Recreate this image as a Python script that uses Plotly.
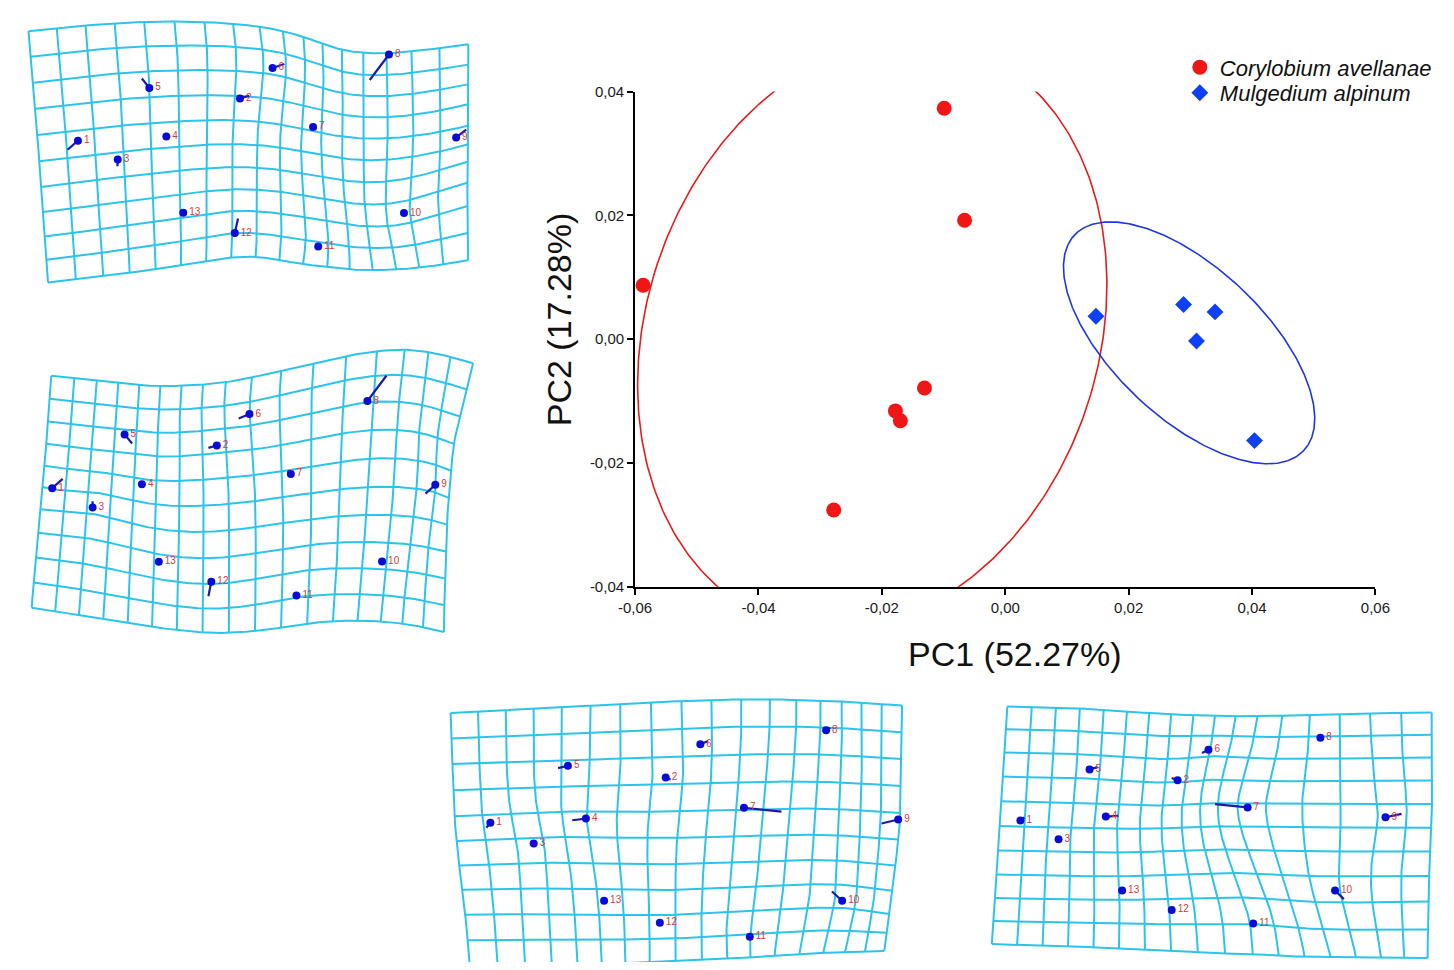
import numpy as np
import plotly.graph_objects as go

# ---------------- PCA scores ----------------
cory_pc1 = [-0.0587, -0.0099, -0.0066, -0.0131, -0.0178, -0.0170, -0.0278]
cory_pc2 = [0.0087, 0.0373, 0.0192, -0.0079, -0.0116, -0.0132, -0.0276]
mulg_pc1 = [0.0147, 0.0289, 0.0340, 0.0310, 0.0404]
mulg_pc2 = [0.0037, 0.0056, 0.0044, -0.0003, -0.0164]

x_ticks = [-0.06, -0.04, -0.02, 0.0, 0.02, 0.04, 0.06]
x_tick_text = ["-0,06", "-0,04", "-0,02", "0,00", "0,02", "0,04", "0,06"]
y_ticks = [-0.04, -0.02, 0.0, 0.02, 0.04]
y_tick_text = ["-0,04", "-0,02", "0,00", "0,02", "0,04"]

ELLIPSE_P = 0.90

# ---------------- deformation grids ----------------
# landmarks: position in the panel, and grid coordinates (column u, row v) of each landmark
# frame: grid nodes on the outline (u, v) -> (x, y)
landmark_ids = [str(i) for i in range(1, 14)]

pc2_pos_x = [62.3, 228.0, 103.0, 152.7, 135.3, 261.3, 302.7, 380.3, 449.0, 395.7, 308.0, 222.7, 170.0]
pc2_pos_y = [134.0, 91.0, 153.3, 129.7, 80.3, 60.0, 120.0, 46.3, 130.7, 207.7, 241.7, 228.0, 207.3]
pc2_pos_u = [1.41, 7.2, 2.8, 4.56, 4.0, 8.35, 10.6, 14.1, 16.55, 14.8, 10.5, 7.1, 5.1]
pc2_pos_v = [4.4, 3.1, 5.3, 4.55, 2.65, 1.74, 3.8, 0.05, 4.4, 7.5, 9.2, 9.0, 7.8]
pc2_pos_tip_x = [51.7, 237.3, 102.7, None, 127.7, 273.3, 306.0, 360.7, 459.3, None, None, 226.0, None]
pc2_pos_tip_y = [143.3, 88.3, 160.0, None, 70.7, 56.0, 122.7, 72.3, 122.7, None, None, 213.3, None]
pc2_pos_frame_u = [0, 2, 4, 6, 8, 10, 12, 15, 17,
                   0, 2, 4, 6, 8, 10, 12, 14, 16, 17,
                   0, 0, 0, 17, 17, 17]
pc2_pos_frame_v = [0, 0, 0, 0, 0, 0, 0, 0, 0,
                   10, 10, 10, 10, 10, 10, 10, 10, 10, 10,
                   2, 5, 8, 3, 6, 8]
pc2_pos_frame_x = [11.7, 70.0, 130.0, 191.7, 248.0, 293.0, 332.0, 403.0, 461.7,
                   31.7, 88.3, 141.7, 193.3, 244.0, 292.0, 340.0, 388.0, 436.0, 461.0,
                   16.7, 22.7, 28.3, 461.0, 461.0, 461.0]
pc2_pos_frame_y = [22.7, 16.7, 13.3, 13.3, 18.0, 28.3, 41.7, 43.0, 36.0,
                   278.3, 271.7, 265.0, 256.7, 252.0, 260.0, 265.0, 265.0, 260.0, 256.0,
                   75.0, 155.0, 231.7, 96.7, 155.0, 200.0]

pc2_neg_x = [36.0, 204.3, 77.3, 127.7, 110.0, 237.7, 280.0, 358.3, 427.7, 373.3, 285.7, 198.7, 145.0]
pc2_neg_y = [147.7, 104.3, 167.3, 143.7, 93.0, 72.3, 133.3, 59.0, 144.3, 222.3, 257.0, 243.0, 222.7]
pc2_neg_u = [0.43, 7.6, 2.24, 4.34, 3.46, 9.0, 10.3, 12.8, 15.9, 13.8, 10.55, 7.33, 5.2]
pc2_neg_v = [4.9, 2.7, 5.75, 4.2, 2.2, 1.5, 4.15, 1.96, 4.75, 7.7, 8.95, 7.9, 7.3]
pc2_neg_tip_x = [46.7, 195.7, 77.3, None, 117.7, 226.7, 276.7, 377.7, 417.7, None, None, 195.7, None]
pc2_neg_tip_y = [138.3, 106.7, 161.0, None, 102.3, 76.7, 130.0, 33.3, 153.3, None, None, 257.7, None]
pc2_neg_frame_u = [0, 2, 4, 6, 8, 10, 12, 14, 16, 17,
                   0, 2, 4, 6, 8, 10, 12, 14, 16, 17,
                   0, 0, 0, 17, 17, 17]
pc2_neg_frame_v = [0, 0, 0, 0, 0, 0, 0, 0, 0, 0,
                   10, 10, 10, 10, 10, 10, 10, 10, 10, 10,
                   2, 5, 8, 3, 5, 8]
pc2_neg_frame_x = [35.0, 81.7, 125.0, 168.3, 213.3, 270.0, 336.7, 396.7, 443.0, 466.7,
                   15.0, 63.3, 113.3, 163.3, 216.7, 270.0, 323.0, 372.0, 415.0, 436.7,
                   32.0, 25.7, 19.3, 446.3, 440.3, 437.3]
pc2_neg_frame_y = [33.3, 38.0, 43.0, 43.5, 40.0, 28.3, 13.3, 6.7, 14.0, 20.7,
                   269.3, 277.0, 285.0, 292.0, 295.0, 290.0, 283.0, 283.3, 289.0, 294.3,
                   80.0, 145.7, 218.3, 102.8, 157.5, 239.6]

pc1_neg_x = [54.0, 233.3, 98.3, 151.7, 133.3, 268.7, 313.3, 397.3, 471.0, 413.7, 319.3, 227.3, 170.3]
pc1_neg_y = [133.3, 87.3, 154.3, 129.0, 75.3, 53.3, 118.0, 39.0, 130.0, 212.7, 249.3, 235.0, 212.7]
pc1_neg_u = [1.26, 7.4, 2.56, 5.0, 4.25, 8.6, 10.3, 13.25, 16.9, 14.3, 11.0, 7.4, 5.25]
pc1_neg_v = [4.33, 2.73, 5.24, 4.28, 2.2, 1.6, 3.93, 1.1, 4.25, 7.7, 9.1, 8.3, 7.45]
pc1_neg_tip_x = [50.0, 238.3, None, 137.7, 123.3, 276.7, 351.7, 401.7, 454.0, 403.3, None, None, None]
pc1_neg_tip_y = [138.3, 89.3, None, 130.7, 77.7, 50.0, 122.0, 36.7, 134.0, 203.3, None, None, None]
pc1_neg_frame_u = [0, 3, 6, 9, 11, 13, 15, 17,
                   0, 4, 7, 10, 13, 15, 17,
                   0, 0, 0, 0, 17, 17, 17, 17]
pc1_neg_frame_v = [0, 0, 0, 0, 0, 0, 0, 0,
                   10, 10, 10, 10, 10, 10, 10,
                   2, 4, 6, 8, 2, 4, 6, 8]
pc1_neg_frame_x = [13.3, 98.3, 186.7, 280.0, 340.0, 391.7, 433.3, 475.0,
                   33.0, 143.3, 216.7, 296.7, 370.0, 416.7, 456.7,
                   15.3, 17.3, 22.0, 28.3, 474.0, 473.3, 468.0, 461.7]
pc1_neg_frame_y = [21.7, 17.3, 12.3, 8.3, 7.7, 9.0, 11.0, 14.0,
                   279.0, 278.0, 275.0, 271.7, 266.7, 265.0, 263.3,
                   73.3, 126.7, 176.7, 226.7, 68.3, 123.3, 176.7, 226.7]

pc1_pos_x = [36.0, 196.7, 75.0, 123.3, 106.7, 228.3, 268.3, 342.7, 409.3, 357.7, 274.0, 190.7, 140.0]
pc1_pos_y = [126.0, 85.0, 145.0, 122.0, 74.0, 54.0, 112.7, 41.7, 122.7, 197.3, 230.7, 217.0, 197.3]
pc1_pos_u = [0.82, 7.6, 2.5, 4.5, 3.55, 8.9, 11.45, 13.35, 15.2, 13.85, 10.1, 7.1, 5.1]
pc1_pos_v = [4.77, 2.9, 5.47, 4.5, 2.63, 1.74, 4.15, 1.05, 4.57, 7.55, 9.0, 8.45, 7.6]
pc1_pos_tip_x = [40.0, 190.7, None, 136.0, 115.0, 221.7, 235.0, 340.0, 425.7, 366.7, None, None, None]
pc1_pos_tip_y = [122.7, 82.7, None, 121.3, 71.7, 57.3, 109.3, 43.3, 119.3, 206.0, None, None, None]
pc1_pos_frame_u = [0, 3, 5, 7, 9, 11, 13, 15, 17,
                   0, 3, 5, 7, 9, 11, 13, 15, 17,
                   0, 0, 0, 17, 17, 17]
pc1_pos_frame_v = [0, 0, 0, 0, 0, 0, 0, 0, 0,
                   10, 10, 10, 10, 10, 10, 10, 10, 10,
                   2, 5, 8, 2, 5, 8]
pc1_pos_frame_x = [22.7, 96.7, 145.0, 190.0, 235.0, 278.3, 331.7, 393.3, 456.7,
                   6.7, 84.7, 136.7, 190.0, 245.0, 300.0, 353.3, 405.0, 452.0,
                   19.3, 14.7, 10.0, 456.0, 455.0, 454.0]
pc1_pos_frame_y = [10.0, 12.0, 15.0, 18.0, 20.0, 20.0, 18.3, 17.0, 16.0,
                   251.7, 254.0, 256.0, 258.5, 261.7, 264.0, 265.0, 265.5, 266.0,
                   56.7, 131.7, 205.0, 61.7, 133.3, 208.3]

GRID_COLS = 18   # vertical grid lines (u = 0 .. 17)
GRID_ROWS = 11   # horizontal grid lines (v = 0 .. 10)
SMOOTHING = 1.0  # thin-plate spline regularisation

# ---------------- page layout ----------------
W, H = 1454, 970
FONT = "Liberation Sans, Arial, Helvetica, sans-serif"
RED, BLUE = "#F01616", "#1040F5"
RED_LINE, BLUE_LINE = "#E81A1A", "#2236E0"
GRID_COLOR = "#2CC3EC"
LM_COLOR, TIP_COLOR, LABEL_COLOR = "#0B0BD6", "#1B1BA6", "#D63A3A"

PLOT_L, PLOT_R, PLOT_T, PLOT_B = 632, 1389, 84, 588

panel_boxes = {
    "pc2_pos": (0, 0, 480, 290),
    "pc2_neg": (0, 340, 480, 300),
    "pc1_neg": (430, 695, 490, 275),
    "pc1_pos": (990, 700, 464, 270),
}


def conf_ellipse(x, y, p, n=400):
    x = np.asarray(x, float)
    y = np.asarray(y, float)
    cov = np.cov(x, y)
    k = np.sqrt(-2.0 * np.log(1.0 - p))
    vals, vecs = np.linalg.eigh(cov)
    t = np.linspace(0, 2 * np.pi, n)
    circ = np.vstack([np.cos(t), np.sin(t)])
    pts = vecs @ (np.sqrt(vals)[:, None] * circ) * k
    return x.mean() + pts[0], y.mean() + pts[1]


def _tps_kernel(d2):
    out = np.zeros_like(d2)
    m = d2 > 0
    out[m] = d2[m] * np.log(d2[m])
    return out


def tps_fit(src, dst, lam=0.0):
    n = len(src)
    d2 = ((src[:, None, :] - src[None, :, :]) ** 2).sum(-1)
    L = np.zeros((n + 3, n + 3))
    L[:n, :n] = _tps_kernel(d2) + lam * np.eye(n)
    P = np.hstack([np.ones((n, 1)), src])
    L[:n, n:] = P
    L[n:, :n] = P.T
    rhs = np.zeros((n + 3, 2))
    rhs[:n] = dst
    return src, np.linalg.solve(L, rhs)


def tps_apply(model, pts):
    src, coef = model
    n = len(src)
    d2 = ((pts[:, None, :] - src[None, :, :]) ** 2).sum(-1)
    return _tps_kernel(d2) @ coef[:n] + coef[n] + pts @ coef[n + 1:]


panels = {
    "pc2_pos": dict(x=pc2_pos_x, y=pc2_pos_y, u=pc2_pos_u, v=pc2_pos_v,
                    tx=pc2_pos_tip_x, ty=pc2_pos_tip_y,
                    fu=pc2_pos_frame_u, fv=pc2_pos_frame_v, fx=pc2_pos_frame_x, fy=pc2_pos_frame_y),
    "pc2_neg": dict(x=pc2_neg_x, y=pc2_neg_y, u=pc2_neg_u, v=pc2_neg_v,
                    tx=pc2_neg_tip_x, ty=pc2_neg_tip_y,
                    fu=pc2_neg_frame_u, fv=pc2_neg_frame_v, fx=pc2_neg_frame_x, fy=pc2_neg_frame_y),
    "pc1_neg": dict(x=pc1_neg_x, y=pc1_neg_y, u=pc1_neg_u, v=pc1_neg_v,
                    tx=pc1_neg_tip_x, ty=pc1_neg_tip_y,
                    fu=pc1_neg_frame_u, fv=pc1_neg_frame_v, fx=pc1_neg_frame_x, fy=pc1_neg_frame_y),
    "pc1_pos": dict(x=pc1_pos_x, y=pc1_pos_y, u=pc1_pos_u, v=pc1_pos_v,
                    tx=pc1_pos_tip_x, ty=pc1_pos_tip_y,
                    fu=pc1_pos_frame_u, fv=pc1_pos_frame_v, fx=pc1_pos_frame_x, fy=pc1_pos_frame_y),
}

fig = go.Figure()

# ---------------- score plot ----------------
ex, ey = conf_ellipse(cory_pc1, cory_pc2, ELLIPSE_P)
fig.add_trace(go.Scatter(x=ex, y=ey, mode="lines", line=dict(color=RED_LINE, width=1.6),
                         showlegend=False, hoverinfo="skip"))
ex, ey = conf_ellipse(mulg_pc1, mulg_pc2, ELLIPSE_P)
fig.add_trace(go.Scatter(x=ex, y=ey, mode="lines", line=dict(color=BLUE_LINE, width=1.6),
                         showlegend=False, hoverinfo="skip"))
fig.add_trace(go.Scatter(x=cory_pc1, y=cory_pc2, mode="markers", name="Corylobium avellanae",
                         marker=dict(symbol="circle", size=15, color=RED), cliponaxis=False,
                         legend="legend"))
fig.add_trace(go.Scatter(x=mulg_pc1, y=mulg_pc2, mode="markers", name="Mulgedium alpinum",
                         marker=dict(symbol="diamond", size=13, color=BLUE), cliponaxis=False,
                         legend="legend2"))

# ---------------- transformation grids ----------------
layout_axes = {}
for idx, (key, p) in enumerate(panels.items()):
    n_ax = idx + 3
    xa, ya = f"x{n_ax}", f"y{n_ax}"

    src = np.vstack([np.column_stack([p["u"], p["v"]]), np.column_stack([p["fu"], p["fv"]])]).astype(float)
    dst = np.vstack([np.column_stack([p["x"], p["y"]]), np.column_stack([p["fx"], p["fy"]])]).astype(float)
    model = tps_fit(src, dst, SMOOTHING)

    gx, gy = [], []
    vv = np.linspace(0, GRID_ROWS - 1, 100)
    for i in range(GRID_COLS):
        q = tps_apply(model, np.column_stack([np.full_like(vv, i), vv]))
        gx += list(q[:, 0]) + [None]
        gy += list(q[:, 1]) + [None]
    uu = np.linspace(0, GRID_COLS - 1, 170)
    for j in range(GRID_ROWS):
        q = tps_apply(model, np.column_stack([uu, np.full_like(uu, j)]))
        gx += list(q[:, 0]) + [None]
        gy += list(q[:, 1]) + [None]
    fig.add_trace(go.Scatter(x=gx, y=gy, mode="lines", line=dict(color=GRID_COLOR, width=2),
                             xaxis=xa, yaxis=ya, showlegend=False, hoverinfo="skip"))

    sx, sy = [], []
    for x0, y0, x1, y1 in zip(p["x"], p["y"], p["tx"], p["ty"]):
        if x1 is None:
            continue
        sx += [x0, x1, None]
        sy += [y0, y1, None]
    fig.add_trace(go.Scatter(x=sx, y=sy, mode="lines", line=dict(color=TIP_COLOR, width=2.2),
                             xaxis=xa, yaxis=ya, showlegend=False, hoverinfo="skip"))
    fig.add_trace(go.Scatter(x=p["x"], y=p["y"], mode="markers+text", text=landmark_ids,
                             textposition="middle right",
                             textfont=dict(family=FONT, size=10, color=LABEL_COLOR),
                             marker=dict(size=8, color=LM_COLOR),
                             xaxis=xa, yaxis=ya, showlegend=False, hoverinfo="skip"))

    bx, by, bw, bh = panel_boxes[key]
    layout_axes[f"xaxis{n_ax}"] = dict(domain=[bx / W, min(1, (bx + bw) / W)], range=[0, bw],
                                       visible=False, anchor=ya, fixedrange=True)
    layout_axes[f"yaxis{n_ax}"] = dict(domain=[max(0, 1 - (by + bh) / H), 1 - by / H], range=[bh, 0],
                                       visible=False, anchor=xa, fixedrange=True)

axis_common = dict(showgrid=False, zeroline=False, showline=True, linecolor="black", linewidth=2,
                   ticks="outside", ticklen=6, tickwidth=1.5, tickcolor="black",
                   tickfont=dict(family=FONT, size=15, color="#1a1a1a"))

legend_common = dict(xanchor="left", yanchor="top", bgcolor="rgba(0,0,0,0)",
                     font=dict(family=FONT, size=22, color="#111111", style="italic"))

fig.update_layout(
    width=W, height=H,
    margin=dict(l=0, r=0, t=0, b=0),
    paper_bgcolor="white", plot_bgcolor="white",
    xaxis=dict(domain=[PLOT_L / W, PLOT_R / W], range=[-0.06, 0.06], tickvals=x_ticks,
               ticktext=x_tick_text, anchor="y", **axis_common),
    yaxis=dict(domain=[1 - PLOT_B / H, 1 - PLOT_T / H], range=[-0.04, 0.04], tickvals=y_ticks,
               ticktext=y_tick_text, anchor="x", **axis_common),
    legend=dict(x=1189 / W, y=1 - 38 / H, **legend_common),
    legend2=dict(x=1189 / W, y=1 - 64 / H, **legend_common),
    annotations=[
        dict(text="PC1 (52.27%)", x=1020 / W, y=1 - 657 / H, xref="paper", yref="paper",
             showarrow=False, font=dict(family=FONT, size=34, color="#111111"),
             xanchor="center", yanchor="middle"),
        dict(text="PC2 (17.28%)", x=555 / W, y=1 - 316 / H, xref="paper", yref="paper",
             showarrow=False, textangle=-90, font=dict(family=FONT, size=34, color="#111111"),
             xanchor="center", yanchor="middle"),
    ],
    **layout_axes,
)

fig.write_html("out.html", post_script="document.body.style.margin='0px';"
                                       "document.documentElement.style.overflow='hidden';")
